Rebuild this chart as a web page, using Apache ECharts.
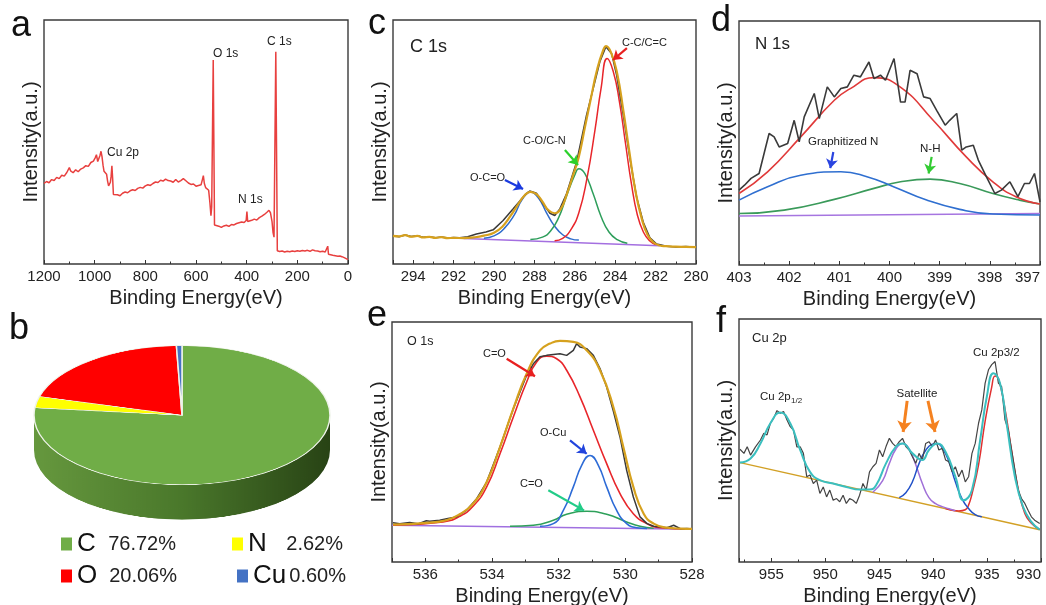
<!DOCTYPE html>
<html>
<head>
<meta charset="utf-8">
<title>XPS</title>
<script src="https://cdn.jsdelivr.net/npm/echarts@6.0.0/dist/echarts.min.js"></script>
<style>
  html, body { margin: 0; padding: 0; background: #fff; }
  #main { position: absolute; left: 0; top: 0; width: 1046px; height: 605px; }
  /* pie is drawn round, then squashed to look like a tilted disc */
  #pie { position: absolute; left: 0; top: 340px; width: 360px; height: 400px;
         transform: scaleY(0.47); transform-origin: 0 0; pointer-events: none; }
</style>
</head>
<body>
<div id="main"></div>
<div id="pie"></div>
<script>
// ---------- data: [binding energy (eV), intensity (a.u., 0-100 of the frame)] ----------
// a: survey
var surveyData = [[1200,33.0],[1190,33.8],[1180,33.3],[1170,34.6],[1160,34.2],[1150,35.5],[1140,35.0],[1130,36.4],[1120,36.0],[1110,37.5],[1100,39.5],[1095,38.2],[1085,37.4],[1075,38.6],[1065,37.8],[1055,38.9],[1045,39.4],[1035,40.3],[1025,40.0],[1015,41.6],[1005,42.2],[998,43.5],[993,44.8],[988,42.0],[983,41.4],[979,44.5],[975,46.2],[971,44.0],[967,40.5],[963,38.0],[958,37.5],[953,36.8],[949,34.0],[945,32.0],[941,31.2],[938,33.5],[935,36.0],[932,40.2],[929,35.0],[926,28.5],[920,27.8],[910,28.4],[900,28.0],[890,29.0],[880,29.5],[870,29.2],[860,30.0],[850,30.4],[840,30.1],[830,31.0],[820,31.4],[810,31.1],[800,32.0],[790,32.5],[780,32.2],[770,33.0],[760,33.6],[750,33.4],[740,34.3],[730,34.0],[720,34.8],[710,34.2],[700,34.0],[690,33.5],[680,34.6],[670,33.6],[660,34.2],[650,35.0],[640,34.1],[630,33.2],[620,32.6],[610,32.8],[600,31.9],[590,32.2],[580,32.5],[575,34.5],[571,36.2],[567,33.0],[562,31.3],[556,31.8],[550,30.2],[545,25.0],[541,19.8],[538,23.5],[532,83.6],[527,16.0],[520,15.2],[510,15.5],[500,15.0],[490,15.6],[480,15.9],[470,15.4],[460,16.2],[450,16.0],[440,16.6],[430,16.9],[420,17.2],[410,17.0],[402,17.8],[399,21.5],[396,17.4],[390,17.6],[380,17.9],[370,18.4],[360,18.0],[350,19.0],[340,19.6],[330,20.3],[320,21.2],[312,22.0],[306,21.0],[300,17.5],[296,13.0],[292,11.0],[285,87.0],[279,5.4],[270,5.1],[260,5.3],[250,4.9],[240,5.2],[230,5.0],[220,5.3],[210,5.1],[200,5.4],[190,5.2],[180,5.5],[170,5.3],[160,5.6],[150,5.2],[140,5.8],[130,5.4],[120,5.3],[110,5.0],[100,5.2],[90,4.9],[83,5.0],[80,7.3],[77,4.0],[70,3.8],[60,3.6],[50,3.4],[40,3.2],[32,3.3],[28,4.0],[24,3.0],[15,2.6],[8,2.2],[0,1.8]];

// c: C 1s
var c1sRaw = [[295,11.6],[294.7,11.2],[294.4,11.9],[294.1,11.3],[293.8,11.6],[293.5,11.0],[293.2,11.2],[292.9,10.8],[292.6,11.1],[292.3,10.7],[292.0,10.9],[291.7,10.8],[291.3,11.2],[290.87,12.3],[290.4,13.1],[290.04,14.0],[289.55,17.8],[289.05,22.6],[288.56,27.4],[288.23,29.9],[287.9,29.0],[287.57,24.7],[287.23,20.8],[286.99,19.9],[286.74,22.6],[286.41,28.8],[285.91,41.8],[285.42,61],[285.09,71.9],[284.76,82.9],[284.46,89.0],[284.18,86.3],[283.93,77.4],[283.6,61],[283.27,43.2],[282.94,27.4],[282.61,17.1],[282.28,10.7],[281.95,8.2],[281.45,7.3],[281,7.0],[280.5,7.2],[280,6.9]];
var c1sFit = [[295,11.5],[294.7,11.3],[294.4,11.8],[294.1,11.2],[293.8,11.5],[293.5,10.9],[293.2,11.1],[292.9,10.7],[292.6,11.0],[292.3,10.6],[292.0,10.7],[291.5,10.6],[291,10.9],[290.5,11.6],[290,12.8],[289.6,15.2],[289.2,19.5],[288.8,24.5],[288.5,28],[288.2,29.6],[287.9,28.6],[287.6,25.5],[287.3,22],[287.0,20.8],[286.7,22.5],[286.4,28.5],[286.1,36],[285.8,44],[285.5,56],[285.2,68],[284.9,79.5],[284.6,87.5],[284.45,89.3],[284.2,86.5],[283.9,78],[283.6,63],[283.3,46],[283.0,30],[282.7,19],[282.4,12],[282.1,8.8],[281.8,7.6],[281.5,7.3],[281,7.1],[280.5,7.0],[280,6.9]];
var c1sOCO = [[290.5,10.6],[290,11.5],[289.5,14.5],[289,20],[288.6,26.5],[288.2,29.5],[287.8,27],[287.4,21],[287,15.5],[286.6,12],[286.2,10.3],[285.8,9.8]];
var c1sCON = [[288.2,10],[287.6,11],[287.2,13.5],[286.8,19],[286.4,28],[286.0,36.5],[285.8,39],[285.5,37],[285.1,29],[284.7,19.5],[284.3,13],[283.9,10],[283.4,8.5]];
var c1sCC = [[287,9.5],[286.6,10.5],[286.2,14],[285.8,21],[285.4,35],[285.0,55],[284.7,72],[284.4,84.2],[284.1,79],[283.8,67],[283.5,50],[283.2,33],[282.9,20],[282.6,13],[282.3,9.5],[282,8]];
var c1sBg = [[291.5,10.4],[281.8,7.5]];

// d: N 1s
var n1sRaw = [[403,30.7],[402.89,32.7],[402.76,35.5],[402.6,37.5],[402.5,45.7],[402.4,53.9],[402.3,52.5],[402.2,48.4],[402.03,49.8],[401.9,59.3],[401.8,50.5],[401.7,60.7],[401.5,70.3],[401.4,60.0],[401.24,73.0],[401.1,68.9],[400.97,72.3],[400.84,73.0],[400.71,77.8],[400.58,77.1],[400.41,83.2],[400.31,76.4],[400.18,77.8],[400.08,75.7],[399.91,84.6],[399.78,66.8],[399.69,66.8],[399.59,79.8],[399.45,78.4],[399.32,68.9],[399.19,68.2],[399.06,63.4],[398.89,57.3],[398.8,59.3],[398.66,62.1],[398.56,47.1],[398.47,48.4],[398.33,49.1],[398.23,43.0],[398.07,36.2],[397.9,29.3],[397.77,30.7],[397.6,34.1],[397.44,28.0],[397.31,33.4],[397.21,33.4],[397.11,37.5],[397,25.9]];
var n1sFit = [[403,29.3],[402.43,38.2],[401.77,52.5],[401.1,67.5],[400.78,72.3],[400.31,76.8],[399.79,73.0],[399.13,59.3],[398.47,44.3],[397.94,34.1],[397.48,28.0],[397,25.0]];
var n1sGraph = [[403,26.6],[402.43,32.1],[401.77,36.8],[400.97,38.2],[400.45,36.2],[399.92,32.1],[399.26,26.6],[398.6,22.8],[397.94,20.9],[397,20.5]];
var n1sNH = [[403,21.1],[402.1,22.5],[401.1,26.9],[400.31,31.4],[399.78,34.1],[399.19,35.2],[398.6,33.4],[397.94,29.3],[397.41,26.6],[397,25.0]];
var n1sBg = [[403,20.1],[397,21.1]];

// e: O 1s
var o1sRaw = [[536.97,16.4],[536.77,15.9],[536.47,16.5],[536.22,15.9],[535.97,17.2],[535.87,17.0],[535.57,17.4],[535.32,18.1],[535.07,18.8],[534.77,21.5],[534.46,26.4],[534.16,33.3],[533.76,47.9],[533.36,63.9],[532.96,77.8],[532.76,82.6],[532.56,85.5],[532.36,86.1],[532.16,86.5],[531.96,86.8],[531.76,86.1],[531.56,88.2],[531.46,91.0],[531.36,89.6],[531.16,88.9],[530.96,86.1],[530.76,80.6],[530.56,72.9],[530.36,62.9],[530.16,52.1],[529.96,38.2],[529.76,27.1],[529.56,18.8],[529.35,16.0],[529.15,14.9],[528.95,14.6],[528.75,14.3],[528.55,15.3],[528.35,13.9],[528.15,14.0],[528.0,13.8]];
var o1sFit = [[536.97,15.6],[536.5,15.8],[535.97,16.3],[535.37,17.4],[534.97,19.9],[534.57,24.3],[534.16,33.3],[533.76,47.9],[533.36,63.9],[532.96,78.5],[532.56,88.2],[532.26,91.0],[531.96,92.1],[531.56,91.7],[531.16,88.2],[530.76,79.9],[530.36,64.6],[530.06,47.9],[529.76,31.3],[529.45,20.1],[529.15,16.0],[528.75,14.3],[528.35,13.9],[528.0,13.8]];
var o1sCO = [[536.97,15.3],[535.47,16.7],[534.97,19.0],[534.57,23.2],[534.16,31.3],[533.76,45.1],[533.36,60.4],[532.96,75.0],[532.66,83.3],[532.36,85.8],[532.06,84.7],[531.76,79.9],[531.36,68.8],[530.96,54.9],[530.56,41.0],[530.16,28.5],[529.76,20.1],[529.35,16.0],[528.95,14.3],[528.0,13.8]];
var o1sOCu = [[532.56,14.9],[532.16,16.0],[531.86,21.5],[531.56,31.3],[531.31,40.3],[531.06,44.4],[530.81,40.3],[530.56,31.3],[530.26,21.5],[529.96,16.0],[529.66,14.3],[529.35,14.0]];
var o1sCO2 = [[533.46,14.9],[532.76,15.3],[532.16,17.4],[531.76,19.9],[531.16,21.1],[530.56,19.9],[529.96,16.7],[529.56,14.9],[529.15,14.1]];
var o1sBg = [[537,15.3],[528,13.6]];

// f: Cu 2p
var cu2pRaw = [[957.91,46.4],[957.54,44.7],[957.24,47.4],[956.93,44.0],[956.47,47.4],[956.01,50.2],[955.70,53.0],[955.40,52.3],[955.09,57.1],[954.79,59.1],[954.48,62.3],[954.17,61.2],[953.87,61.9],[953.56,58.5],[953.25,55.7],[952.95,54.3],[952.64,47.4],[952.33,47.4],[952.03,44.7],[951.72,35.1],[951.42,35.8],[951.11,32.3],[950.80,33.7],[950.50,28.2],[950.19,30.9],[949.88,26.8],[949.58,29.6],[949.27,25.4],[948.96,26.1],[948.66,24.8],[948.35,27.5],[948.05,24.1],[947.74,26.1],[947.43,25.4],[947.13,24.1],[946.82,27.5],[946.51,32.3],[946.21,29.6],[945.90,37.1],[945.59,39.2],[945.29,40.6],[944.98,46.1],[944.68,43.3],[944.37,47.5],[944.06,50.9],[943.76,48.8],[943.45,47.5],[943.14,49.5],[942.84,50.9],[942.53,47.5],[942.22,46.1],[941.92,43.3],[941.61,40.6],[941.31,44.7],[941.00,42.0],[940.69,48.8],[940.39,49.5],[940.08,47.5],[939.77,50.2],[939.47,46.1],[939.16,46.8],[938.85,42.0],[938.55,41.3],[938.24,37.1],[937.94,39.2],[937.63,35.1],[937.32,37.8],[937.02,33.0],[936.71,35.1],[936.40,44.7],[936.10,48.8],[935.79,57.1],[935.49,62.6],[935.18,73.6],[934.87,79.1],[934.57,81.2],[934.26,82.5],[933.95,73.6],[933.65,72.2],[933.34,58.5],[933.03,54.3],[932.73,46.1],[932.42,37.8],[932.11,29.6],[931.81,26.1],[931.50,24.1],[931.20,21.3],[930.89,18.6],[930.59,17.2],[930.12,15.8]];
var cu2pFit = [[957.91,40.9],[956.93,42.6],[956.01,48.8],[955.09,57.1],[954.17,61.5],[953.25,57.1],[952.33,46.1],[951.42,37.1],[950.50,33.7],[949.27,32.3],[948.05,30.9],[946.82,29.8],[945.90,29.8],[945.29,31.6],[944.37,40.6],[943.45,47.5],[942.84,48.8],[941.92,44.7],[941.00,42.0],[940.39,46.1],[939.62,48.8],[938.85,45.4],[937.94,35.1],[937.17,25.4],[936.40,29.6],[935.64,50.2],[935.02,68.1],[934.41,77.7],[933.80,73.6],[933.19,57.1],[932.42,35.1],[931.66,22.7],[930.89,16.5],[930.12,13.3]];
var cu2pSat1 = [[945.59,28.7],[944.68,33.5],[944.06,40.6],[943.45,46.5],[942.84,48.8],[942.22,46.5],[941.61,40.0],[941.0,32.3],[940.39,26.5],[939.77,24.0],[939.16,22.8],[938.55,21.9],[937.94,21.1]];
var cu2pSat2 = [[943.14,26.5],[942.53,28.5],[941.92,33.0],[941.31,40.5],[940.69,46.0],[940.08,48.5],[939.62,48.8],[939.16,47.0],[938.55,41.5],[937.94,33.0],[937.32,26.0],[936.71,22.0],[936.10,19.5],[935.49,18.6]];
var cu2pMain = [[938.85,22.0],[938.24,21.3],[937.63,21.0],[937.02,21.5],[936.71,23.5],[936.40,28.0],[935.79,40],[935.18,58],[934.57,72],[934.26,76.5],[933.95,75.5],[933.34,63],[932.73,46],[932.11,30],[931.50,20],[930.89,16],[930.12,13.3]];
var cu2pBg = [[957.91,40.9],[930.12,13.3]];

// b: element composition (%)
var elements = ['C', 'N', 'O', 'Cu'];
var percents = [76.72, 2.62, 20.06, 0.60];

// ---------- styles ----------
var FONT = '"Liberation Sans", Arial, sans-serif';
var pieColors = ['#70ad47', '#ffff00', '#ff0000', '#4472c4'];
var RAW = '#3a3a3a';

var mainChart = echarts.init(document.getElementById('main'));
var pieChart = echarts.init(document.getElementById('pie'));

function line(name, idx, data, color, width, smooth, z) {
  return {
    type: 'line', name: name, xAxisIndex: idx, yAxisIndex: idx,
    data: data, symbol: 'none', showSymbol: false, smooth: smooth,
    silent: true, z: z || 2,
    lineStyle: { color: color, width: width },
    itemStyle: { color: color }
  };
}

// 箭头标注，坐标用数据坐标
function arrows(list, width, size) {
  return {
    silent: true, animation: false,
    symbol: 'none', symbolSize: size,
    label: { show: false },
    data: list.map(function (a) {
      var ls = { color: a[2], width: width, type: 'solid' };
      return [
        { coord: a[0], symbol: 'none', lineStyle: ls, itemStyle: { color: a[2] } },
        { coord: a[1], symbol: 'arrow', symbolSize: size, lineStyle: ls, itemStyle: { color: a[2] } }
      ];
    })
  };
}

function xAxis(idx, min, max, interval, alignMin) {
  return {
    type: 'value', gridIndex: idx, inverse: true,
    min: min, max: max, interval: interval,
    name: 'Binding Energy(eV)', nameLocation: 'middle', nameGap: 24,
    nameTextStyle: { fontSize: 20, color: '#222', fontFamily: FONT },
    axisLine: { show: false },
    splitLine: { show: false },
    axisTick: { show: true, inside: true, length: 4, lineStyle: { color: '#333' } },
    minorTick: { show: true, splitNumber: 2, length: 2.5, lineStyle: { color: '#333' } },
    axisLabel: {
      fontSize: 15, color: '#222', margin: 5, fontFamily: FONT,
      alignMinLabel: alignMin || null,
      formatter: function (v) {
        var r = Math.abs((v - min) / interval - Math.round((v - min) / interval));
        return r < 1e-6 ? String(Math.round(v)) : '';
      }
    }
  };
}

function yAxis(idx) {
  return {
    type: 'value', gridIndex: idx, min: 0, max: 100,
    name: 'Intensity(a.u.)', nameLocation: 'middle', nameGap: 3,
    nameTextStyle: { fontSize: 20, color: '#222', fontFamily: FONT },
    axisLine: { show: false }, axisTick: { show: false },
    axisLabel: { show: false }, splitLine: { show: false }
  };
}

function grid(left, top, width, height) {
  return {
    left: left, top: top, width: width, height: height,
    show: true, borderColor: '#3a3a3a', borderWidth: 1.4,
    backgroundColor: 'transparent', containLabel: false, outerBoundsMode: 'none'
  };
}

function text(str, x, y, size, extra) {
  var style = {
    text: str, fontSize: size, fontFamily: FONT, fill: '#222',
    verticalAlign: 'middle', textVerticalAlign: 'middle'
  };
  for (var k in extra) style[k] = extra[k];
  return { type: 'text', x: x, y: y, silent: true, style: style };
}

// 图例：每个元素单独一个 legend，便于对齐
var legendPos = [
  { left: 61, top: 531, nW: 22, pW: 77 },
  { left: 232, top: 531, nW: 22, pW: 73 },
  { left: 61, top: 563, nW: 22, pW: 78 },
  { left: 237, top: 563, nW: 36, pW: 57 }
];
var legends = elements.map(function (el, i) {
  var p = legendPos[i];
  return {
    data: [el], left: p.left, top: p.top, padding: 0,
    orient: 'horizontal', icon: 'rect', itemWidth: 11, itemHeight: 13,
    selectedMode: false,
    formatter: function (name) {
      return '{n|' + name + '}{p|' + percents[elements.indexOf(name)].toFixed(2) + '%}';
    },
    textStyle: {
      fontFamily: FONT,
      rich: {
        n: { fontSize: 26, color: '#111', width: p.nW, fontFamily: FONT },
        p: { fontSize: 20, color: '#222', width: p.pW, align: 'right', fontFamily: FONT }
      }
    }
  };
});

var option = {
  animation: false,
  textStyle: { fontFamily: FONT },
  grid: [
    grid(44, 20, 304, 244),   // a
    grid(393, 20, 303, 244),  // c
    grid(739, 21, 301, 244),  // d
    grid(392, 322, 300, 240), // e
    grid(739, 319, 302, 243)  // f
  ],
  xAxis: [
    xAxis(0, 0, 1200, 200),
    xAxis(1, 280, 295, 2),
    xAxis(2, 397, 403, 1, 'right'),
    xAxis(3, 528, 537, 2),
    xAxis(4, 930, 958, 5, 'right')
  ],
  yAxis: [yAxis(0), yAxis(1), yAxis(2), yAxis(3), yAxis(4)],
  legend: legends,
  series: [
    line('survey', 0, surveyData, '#e8403f', 1.5, false),

    Object.assign(line('c bg', 1, c1sBg, '#a46fe0', 1.5, false), {
      markLine: arrows([
        [[283.42, 88.5], [284.11, 83.6], '#e82020'],
        [[286.49, 46.7], [285.84, 40.6], '#2bd12b'],
        [[289.46, 34.4], [288.56, 30.7], '#1a3adf']
      ], 2.2, 9)
    }),
    line('c O-C=O', 1, c1sOCO, '#2f6ccb', 1.5, true),
    line('c C-O/C-N', 1, c1sCON, '#2e9e5b', 1.5, true),
    line('c C-C', 1, c1sCC, '#e8262b', 1.5, true),
    line('c raw', 1, c1sRaw, RAW, 1.5, false),
    line('c fit', 1, c1sFit, '#d6a11e', 2.2, true),

    Object.assign(line('d bg', 2, n1sBg, '#a675e0', 1.6, false), {
      markLine: arrows([
        [[401.12, 46.3], [401.18, 39.7], '#2a44e0'],
        [[399.16, 44.3], [399.22, 37.5], '#33cc33']
      ], 2.2, 9)
    }),
    line('d N-H', 2, n1sNH, '#3a9a5a', 1.6, true),
    line('d graph', 2, n1sGraph, '#2f6fd0', 1.6, true),
    line('d fit', 2, n1sFit, '#e03a3a', 1.6, true),
    line('d raw', 2, n1sRaw, RAW, 1.6, false),

    Object.assign(line('e bg', 3, o1sBg, '#a070e0', 1.5, false), {
      markLine: arrows([
        [[533.56, 84.7], [532.71, 77.4], '#e82020'],
        [[531.66, 50.7], [531.16, 45.1], '#2244dd'],
        [[532.31, 29.9], [531.24, 21.5], '#22cc88']
      ], 2.2, 9)
    }),
    line('e C=O 2', 3, o1sCO2, '#2ea05a', 1.5, true),
    line('e O-Cu', 3, o1sOCu, '#2d6bd6', 1.6, true),
    line('e C=O', 3, o1sCO, '#e8262b', 1.6, true),
    line('e raw', 3, o1sRaw, RAW, 1.5, false),
    line('e fit', 3, o1sFit, '#d6a11e', 2.2, true),

    Object.assign(line('f bg', 4, cu2pBg, '#d2a025', 1.5, false), {
      markLine: arrows([
        [[942.41, 66.3], [942.78, 53.5], '#f58220'],
        [[940.48, 66.3], [939.83, 53.5], '#f58220']
      ], 3, 11)
    }),
    line('f main', 4, cu2pMain, '#e03030', 1.5, true),
    line('f sat1', 4, cu2pSat1, '#a070d8', 1.5, true),
    line('f sat2', 4, cu2pSat2, '#2050c8', 1.5, true),
    line('f raw', 4, cu2pRaw, '#444', 1.2, false),
    line('f fit', 4, cu2pFit, '#3bbfbf', 2, true),

    // 只为图例提供颜色，不绘制
    {
      type: 'pie', name: 'composition', radius: 0, center: [-50, -50],
      silent: true, label: { show: false }, labelLine: { show: false },
      data: elements.map(function (el, i) {
        return { name: el, value: percents[i], itemStyle: { color: pieColors[i] } };
      })
    }
  ],
  graphic: [
    // panel letters
    text('a', 11, 26, 36, { fill: '#111' }),
    text('b', 9, 329, 36, { fill: '#111' }),
    text('c', 368, 24, 36, { fill: '#111' }),
    text('d', 711, 21, 36, { fill: '#111' }),
    text('e', 367, 316, 36, { fill: '#111' }),
    text('f', 716, 322, 36, { fill: '#111' }),
    // inner titles
    text('C 1s', 410, 47, 18),
    text('N 1s', 755, 44, 17),
    text('O 1s', 407, 342, 12.5),
    text('Cu 2p', 752, 338, 13),
    // a peaks
    text('Cu 2p', 107, 153, 12),
    text('O 1s', 213, 54, 12),
    text('C 1s', 267, 42, 12),
    text('N 1s', 238, 200, 12),
    // c peaks
    text('C-C/C=C', 622, 43, 11),
    text('C-O/C-N', 523, 141, 11),
    text('O-C=O', 470, 178, 11),
    // d peaks
    text('Graphitized N', 808, 142, 11.5),
    text('N-H', 920, 149, 11.5),
    // e peaks
    text('C=O', 483, 354, 11),
    text('O-Cu', 540, 433, 11),
    text('C=O', 520, 484, 11),
    // f peaks
    text('Cu 2p', 760, 397, 11.5),
    text('1/2', 791, 401, 8),
    text('Satellite', 917, 394, 11.5, { align: 'center', textAlign: 'center' }),
    text('Cu 2p3/2', 973, 353, 11.5)
  ]
};
mainChart.setOption(option);

// ---------- b: tilted pie ----------
var sideGrad = {
  type: 'linear', x: 34, y: 0, x2: 330, y2: 0, global: true,
  colorStops: [
    { offset: 0, color: '#66983e' },
    { offset: 0.5, color: '#4a782b' },
    { offset: 1, color: '#284315' }
  ]
};
var pieOption = {
  animation: false,
  graphic: [{
    type: 'rect', z: 0, silent: true,
    shape: { x: 34, y: 160, width: 296, height: 74 },
    style: { fill: sideGrad }
  }],
  series: [
    {
      type: 'pie', z: 1, center: [182, 234], radius: 148, startAngle: 90,
      silent: true, label: { show: false }, labelLine: { show: false },
      data: elements.map(function (el, i) {
        return { name: el, value: percents[i], itemStyle: { color: sideGrad } };
      })
    },
    {
      type: 'pie', z: 2, center: [182, 160], radius: 148, startAngle: 90,
      silent: true, label: { show: false }, labelLine: { show: false },
      itemStyle: { borderColor: '#eef3e9', borderWidth: 1.5 },
      data: elements.map(function (el, i) {
        return { name: el, value: percents[i], itemStyle: { color: pieColors[i] } };
      })
    }
  ]
};
pieChart.setOption(pieOption);
</script>
</body>
</html>
